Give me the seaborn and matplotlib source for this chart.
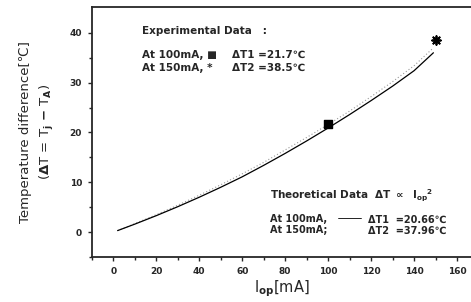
import numpy as np
import pandas as pd
import matplotlib
matplotlib.use('Agg')
import matplotlib.pyplot as plt
import seaborn as sns

# theoretical curve
i_op = [2, 10, 20, 30, 40, 50, 60, 70, 80, 90, 100, 110, 120, 130, 140, 149]
dT_theory = [0.3, 1.6, 3.3, 5.1, 7.0, 9.0, 11.1, 13.4, 15.8, 18.3, 20.9, 23.6, 26.4, 29.3, 32.4, 36.0]
# faint dotted trace just above it
dT_dotted = [0.3, 1.7, 3.5, 5.4, 7.4, 9.5, 11.7, 14.0, 16.5, 19.0, 21.6, 24.3, 27.2, 30.2, 33.4, 37.0]

# experimental points
exp_current = [100, 150]
exp_dT = [21.7, 38.5]

sns.set_style('ticks')
plt.rcParams['font.family'] = ['DejaVu Sans']
plt.rcParams['font.weight'] = 'bold'

fig = plt.figure(figsize=(4.71, 3.02), dpi=100)
ax = fig.add_axes([0.195, 0.149, 0.805, 0.828])

theory = pd.DataFrame({'I': i_op, 'dT': dT_theory, 'dot': dT_dotted})
sns.lineplot(data=theory, x='I', y='dot', ax=ax, color='#999999', lw=0.8, linestyle=(0, (1, 2)))
sns.lineplot(data=theory, x='I', y='dT', ax=ax, color='black', lw=0.9)

ax.scatter(exp_current[0], exp_dT[0], marker='s', s=28, color='black', zorder=5)
ax.scatter(exp_current[1], exp_dT[1], marker=(8, 2, 0), s=40, color='black', lw=1.3, zorder=5)

ax.set_xlim(-10, 166.5)
ax.set_ylim(-5, 45.2)
ax.set_xticks(np.arange(0, 161, 20))
ax.set_xticks(np.arange(-10, 166, 10), minor=True)
ax.set_yticks(np.arange(0, 41, 10))
ax.set_yticks(np.arange(-5, 45, 5), minor=True)
ax.tick_params(which='major', length=3, width=1, labelsize=6.5, pad=4)
ax.tick_params(which='minor', length=2, width=1)
for lab in ax.get_xticklabels() + ax.get_yticklabels():
    lab.set_fontweight('bold')

ax.spines['right'].set_visible(False)
for s in ['left', 'bottom', 'top']:
    ax.spines[s].set_linewidth(1.3)

ax.set_xlabel(r'I$_{\rm op}$[mA]', fontsize=10.5, labelpad=2)
ax.set_ylabel('Temperature difference[℃]\n' + r'($\Delta$T = T$_{\rm j}$ $-$ T$_{\rm A}$)',
              fontsize=9.5, labelpad=10, linespacing=1.5)

fs = 7.5
tr = ax.transAxes
ax.text(0.132, 0.904, 'Experimental Data   :', transform=tr, fontsize=fs, va='center')
ax.text(0.132, 0.808, 'At 100mA, ■', transform=tr, fontsize=fs, va='center')
ax.text(0.132, 0.756, 'At 150mA, *', transform=tr, fontsize=fs, va='center')
ax.text(0.369, 0.808, 'ΔT1 =21.7℃', transform=tr, fontsize=fs, va='center')
ax.text(0.369, 0.756, 'ΔT2 =38.5℃', transform=tr, fontsize=fs, va='center')

ax.text(0.470, 0.244, r'Theoretical Data  $\Delta$T $\propto$  I$_{\rm op}$$^2$', transform=tr,
        fontsize=fs, va='center')
fs2 = 7
ax.text(0.470, 0.150, 'At 100mA,', transform=tr, fontsize=fs2, va='center')
ax.text(0.470, 0.106, 'At 150mA;', transform=tr, fontsize=fs2, va='center')
ax.plot([0.650, 0.71], [0.156, 0.156], transform=tr, color='black', lw=0.6)
ax.text(0.728, 0.150, 'ΔT1  =20.66℃', transform=tr, fontsize=fs2, va='center')
ax.text(0.728, 0.106, 'ΔT2  =37.96℃', transform=tr, fontsize=fs2, va='center')

fig.savefig('out.png', dpi=100)
